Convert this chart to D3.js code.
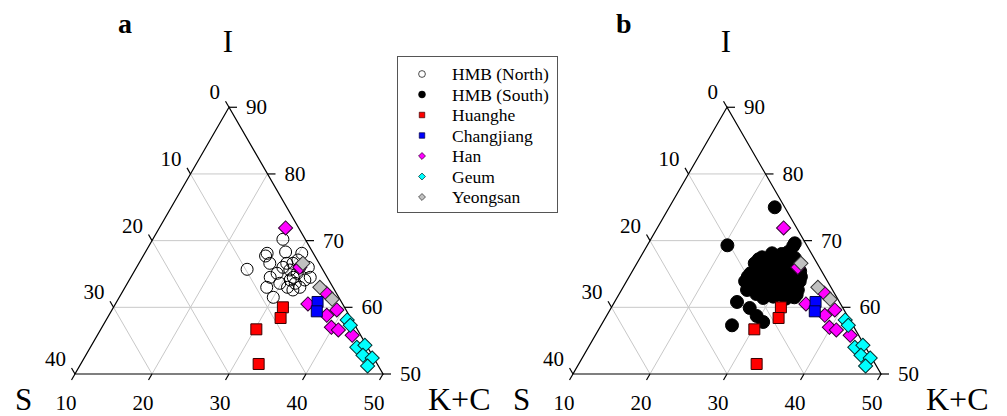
<!DOCTYPE html>
<html lang="en">
<head>
    <meta charset="UTF-8">
    <title>Ternary S - I - K+C</title>
    <script src="https://cdn.jsdelivr.net/npm/d3@7/dist/d3.min.js" charset="utf-8"></script>
    <style>body{margin:0;background:#fff;}</style>
</head>
<body>
<script>
    // every point is [S, I]  (K+C = 100 - S - I)
    let hmbNorth = [[2.9,70.2],[6.0,68.1],[6.4,67.7],[3.5,68.3],[1.5,68.1],[9.8,65.7],[6.4,66.6],
        [6.2,65.1],[8.6,63.0],[8.5,61.5],[7.4,64.5],[5.9,63.0],[4.4,64.5],[2.8,66.0],[1.7,66.0],
        [2.2,64.5],[4.3,63.0],[5.4,62.6],[4.2,66.6],[4.3,65.6],[3.4,66.6],[3.6,65.1],[5.0,64.1],
        [4.6,63.6],[6.6,63.6],[3.1,64.1],[5.0,66.0],[2.5,67.1]];
    let hmbSouth = [[1.3,75.0],[10.3,69.3],[1.4,69.6],[1.8,69.2],
        [6.7,67.5],[5.1,68.1],[3.9,68.0],[2.5,67.4],[2.9,68.3],
        [7.3,67.2],[5.9,67.3],[4.5,67.1],[3.3,67.2],
        [8.1,66.6],[6.6,66.8],[5.2,66.5],[3.8,66.7],[2.7,66.2],
        [7.4,65.9],[5.9,66.0],[4.5,65.8],[3.2,65.9],
        [9.4,65.1],[8.1,65.4],[6.7,65.2],[5.2,65.5],[3.8,65.1],[2.8,65.4],
        [10.0,64.6],[8.6,64.7],[7.1,64.5],[5.7,64.6],[4.3,64.4],[3.1,64.6],
        [10.7,63.9],[9.3,64.1],[7.8,63.8],[6.4,64.0],[5.0,63.7],[3.6,63.9],
        [10.4,63.2],[8.9,63.3],[7.5,63.1],[6.1,63.2],[4.8,63.0],
        [11.1,62.6],[9.7,62.8],[8.2,62.5],[6.8,62.7],[5.5,62.4],[4.5,62.6],
        [10.2,62.0],[8.9,62.1],[7.5,61.9],[6.1,62.0],[5.0,61.9],
        [9.6,61.4],[8.2,61.6],[6.7,61.3],[5.5,61.5],
        [13.3,60.8],[12.1,59.9],[11.8,58.7],[11.4,57.8],[15.7,57.3]];
    let huanghe = [[8.0,60.0],[9.1,58.4],[13.1,56.7],[15.4,51.5]];
    let changjiang = [[3.1,60.8],[3.9,59.4]];
    let han = [[1.7,71.9],[2.8,66.0],[1.3,62.1],[4.5,60.5],[2.9,58.8],[1.2,59.6],[3.2,57.0],[2.5,56.6],[1.1,55.8]];
    let geum = [[0.6,58.1],[0.6,57.3],[1.4,54.0],[0.2,54.3],[1.2,52.8],[0.2,52.4],[1.4,51.2]];
    let yeongsan = [[2.1,66.6],[1.7,63.0],[1.0,61.2]];

    let iTicks = [50,60,70,80,90];
    let sTicks = [0,10,20,30,40];
    let kcTicks = [10,20,30,40,50];
    let legendNames = ["HMB (North)","HMB (South)","Huanghe","Changjiang","Han","Geum","Yeongsan"];

    let width = 1007;
    let height = 416;
    let svg = d3.select("body").append("svg")
        .attr("width", width)
        .attr("height", height)
        .style("font-family", "'Liberation Serif','Times New Roman',serif");

    let sym = {
        circle: d3.symbol().type(d3.symbolCircle),
        square: d3.symbol().type(d3.symbolSquare)
    };

    let rivers = [
        {data: huanghe, shape: "square", fill: "#ff0000", stroke: "#3a0000"},
        {data: han, shape: "diamond", fill: "#ff00ff", stroke: "#300030"},
        {data: changjiang, shape: "square", fill: "#0000ff", stroke: "#000040"},
        {data: geum, shape: "diamond", fill: "#00ffff", stroke: "#003030"},
        {data: yeongsan, shape: "diamond", fill: "#c0c0c0", stroke: "#303030"}
    ];

    function drawPanel(left, hmb, hmbFill, letter) {
        let side = 308;
        let base = 374;
        let apex = base - side * Math.sqrt(3) / 2;
        let y = d3.scaleLinear().domain([50, 90]).range([base, apex]);
        let x = d3.scaleLinear().domain([10, 50]).range([left, left + side]);
        let pt = (s, i) => [x(75 - s - i / 2), y(i)];
        let g = svg.append("g");
        let line = d3.line();

        // grid
        let grid = g.append("g").attr("stroke", "#c8c8c8").attr("stroke-width", 1).attr("fill", "none");
        [60, 70, 80].forEach(v => grid.append("path").attr("d", line([pt(90 - v, v), pt(0, v)])));
        [20, 30, 40].forEach(v => grid.append("path").attr("d", line([pt(50 - v, 50), pt(0, 100 - v)])));
        [10, 20, 30].forEach(v => grid.append("path").attr("d", line([pt(v, 90 - v), pt(v, 50)])));

        // frame
        g.append("path")
            .attr("d", line([pt(0, 90), pt(40, 50), pt(0, 50)]) + "Z")
            .attr("fill", "none").attr("stroke", "#000").attr("stroke-width", 1.2);

        let tickLen = 7;
        let ax = g.append("g").attr("stroke", "#000").attr("stroke-width", 1.2);
        let tx = g.append("g").attr("font-size", "21px").attr("fill", "#000");
        iTicks.forEach(v => {
            let p = pt(0, v);
            ax.append("path").attr("d", line([p, [p[0] + tickLen + 1, p[1]]]));
            tx.append("text").attr("x", p[0] + 17).attr("y", p[1] + 7).text(v);
        });
        sTicks.forEach(v => {
            let p = pt(v, 90 - v);
            ax.append("path").attr("d", line([p, [p[0] - tickLen * 0.5, p[1] - tickLen * 0.866]]));
            tx.append("text").attr("x", p[0] - 9).attr("y", p[1] - 8).attr("text-anchor", "end").text(v);
        });
        kcTicks.forEach(v => {
            let p = pt(50 - v, 50);
            ax.append("path").attr("d", line([p, [p[0] - tickLen * 0.5, p[1] + tickLen * 0.866]]));
            tx.append("text").attr("x", p[0] - 9).attr("y", p[1] + 36).attr("text-anchor", "middle").text(v);
        });

        // axis names
        let a = pt(0, 90);
        g.append("text").attr("x", a[0] - 1).attr("y", 52).attr("text-anchor", "middle")
            .attr("font-size", "31px").text("I");
        g.append("text").attr("x", left - 60).attr("y", 410).attr("font-size", "31px").text("S");
        g.append("text").attr("x", left + side + 45).attr("y", 410).attr("font-size", "32px").text("K+C");
        g.append("text").attr("x", left + 43).attr("y", 33).attr("font-size", "28px")
            .attr("font-weight", "bold").text(letter);

        // HMB sediments
        g.append("g").selectAll("path").data(hmb).join("path")
            .attr("transform", d => `translate(${pt(d[0], d[1])})`)
            .attr("d", sym.circle.size(hmbFill === "none" ? Math.PI * 36 : Math.PI * 42)())
            .attr("fill", hmbFill)
            .attr("stroke", "#000")
            .attr("stroke-width", 1);

        // river sediments
        rivers.forEach(r => {
            g.append("g").selectAll("path").data(r.data).join("path")
                .attr("transform", d => `translate(${pt(d[0], d[1])})` + (r.shape === "diamond" ? " rotate(45)" : ""))
                .attr("d", sym.square.size(r.shape === "diamond" ? 100 : 121)())
                .attr("fill", r.fill)
                .attr("stroke", r.stroke)
                .attr("stroke-width", 1);
        });
    }

    drawPanel(75, hmbNorth, "none", "a");
    drawPanel(573, hmbSouth, "#000", "b");

    // legend
    let lg = svg.append("g");
    lg.append("rect").attr("x", 397.5).attr("y", 56.5).attr("width", 160).attr("height", 156)
        .attr("fill", "#fff").attr("stroke", "#555").attr("stroke-width", 1);
    let legendStyle = [
        {shape: "circle", fill: "#fff", stroke: "#000"},
        {shape: "circle", fill: "#000", stroke: "#000"},
        ...rivers.map(r => ({shape: r.shape, fill: r.fill, stroke: r.stroke}))
    ];
    // legend order: North, South, Huanghe, Changjiang, Han, Geum, Yeongsan
    let order = [0, 1, 2, 4, 3, 5, 6];
    legendNames.forEach((name, k) => {
        let st = legendStyle[order[k]];
        let cy = 74 + k * 20.5;
        let size = st.shape === "circle" ? 36 : (st.shape === "diamond" ? 24 : 30);
        lg.append("path")
            .attr("transform", `translate(422,${cy})` + (st.shape === "diamond" ? " rotate(45)" : ""))
            .attr("d", (st.shape === "circle" ? sym.circle : sym.square).size(size)())
            .attr("fill", st.fill).attr("stroke", st.stroke).attr("stroke-width", 0.7);
        lg.append("text").attr("x", 452).attr("y", cy + 6).attr("font-size", "17.5px").text(name);
    });
</script>
</body>
</html>
